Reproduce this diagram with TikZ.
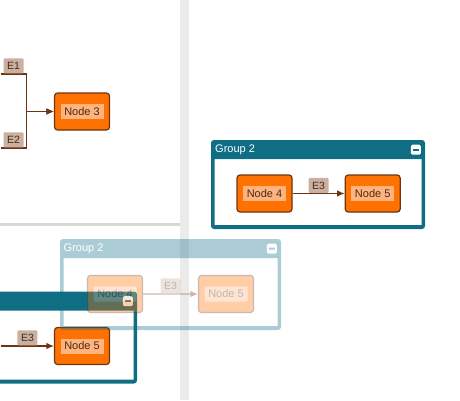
\documentclass[tikz,border=0pt]{standalone}
\usepackage{fontspec}
\setmainfont{Liberation Sans}
\usetikzlibrary{positioning, calc, arrows.meta}

\definecolor{nodefill}{HTML}{FF7100}
\definecolor{nodeline}{HTML}{6E3510}
\definecolor{namefill}{HTML}{FFB37E}
\definecolor{edgeline}{HTML}{6B3512}
\definecolor{tagfill}{HTML}{C9B0A1}
\definecolor{inktext}{HTML}{4B2A12}
\definecolor{groupline}{HTML}{0F6E84}
\definecolor{splitter}{HTML}{EBEBEB}
\definecolor{divider}{HTML}{D8D8D8}

\tikzstyle{Box} = [draw=nodeline, fill=nodefill, line width=1.2pt,
  rounded corners=3pt, minimum width=55pt, minimum height=37pt,
  inner sep=0pt, text=inktext, font=\fontsize{11}{13}\selectfont]
\tikzstyle{Tag} = [fill=tagfill, rounded corners=1pt, minimum width=20pt,
  minimum height=15pt, inner sep=0pt, text=inktext,
  font=\fontsize{10.5}{12}\selectfont]
\tikzstyle{Edge} = [draw=edgeline, line width=1.2pt,
  -{Latex[length=7.5pt, width=6.5pt]}]
\tikzstyle{Area} = [inner sep=0pt, outer sep=0pt]
\tikzstyle{Title} = [anchor=west, inner sep=0pt, text=white,
  font=\fontsize{11}{13}\selectfont]
\tikzstyle{Minus} = [fill=white, rounded corners=1.5pt, minimum size=10pt,
  inner sep=0pt, anchor=north east,
  path picture={\draw[groupline, line width=2pt]
    ($(path picture bounding box.west)+(2,0)$) --
    ($(path picture bounding box.east)+(-2,0)$);}]

\newcommand{\nodename}[1]{{\setlength{\fboxsep}{0pt}%
  \colorbox{namefill}{\makebox[43pt]{\rule[-4pt]{0pt}{15pt}#1}}}}
% frame, header bar and minus button of a group
\newcommand{\groupframe}[1]{%
  \fill[groupline, even odd rule, rounded corners=3pt]
    (#1.north west) rectangle (#1.south east)
    [sharp corners] ($(#1.north west)+(3.5,19)$) rectangle ($(#1.south east)+(-3.5,-4)$);
  \node[Minus] (#1minus) at ($(#1.north east)+(-4,4.5)$) {};}

\begin{document}
\begin{tikzpicture}[x=1pt, y=-1pt]
  \useasboundingbox (0,0) rectangle (460,400);
  \clip (0,0) rectangle (460,400);

  % panes
  \fill[splitter] (179.5,0) rectangle (188.5,400);
  \fill[divider] (0,222.5) rectangle (179.5,225.5);

  % top left pane
  \node[Box] (n3) at (82,111.5) {\nodename{Node 3}};
  \coordinate (e1in) at (0.5,74);
  \coordinate (e2in) at (0.5,148);
  \coordinate (join) at (26.5,111.5);
  \draw[Edge] (e1in) -- node[Tag, anchor=south] (e1) {E1} (e1in -| join) -- (join) -- (n3);
  \draw[Edge] (e2in) -- node[Tag, anchor=south] (e2) {E2} (e2in -| join) -- (join) -- (n3);

  % group 2, right pane
  \node[Area, minimum width=214pt, minimum height=89pt, anchor=north west] (grp2) at (211,140) {};
  \groupframe{grp2}
  \node[Title] (grp2title) at ($(grp2.north west)+(4,10)$) {Group 2};
  \node[Box] (n4) at (264.5,193.5) {\nodename{Node 4}};
  \node[Box, right=52pt of n4] (n5) {\nodename{Node 5}};
  \draw[Edge] (n4) -- node[Tag, anchor=south] (e3) {E3} (n5);

  % group 2, bottom left pane
  \node[Area, minimum width=217pt, minimum height=92pt, anchor=north east] (grp1) at (137,291.5) {};
  \groupframe{grp1}
  \coordinate (m4out) at (1,346);
  \node[Box] (m5) at (82,346) {\nodename{Node 5}};
  \draw[Edge] (m4out) -- node[Tag, anchor=south] (m3) {E3} (m5);

  % dragged copy
  \begin{scope}[opacity=0.35, transparency group]
    \node[Area, minimum width=221pt, minimum height=91pt, anchor=north west] (ghost) at (60,239) {};
    \groupframe{ghost}
    \node[Title] (ghosttitle) at ($(ghost.north west)+(3.5,10)$) {Group 2};
    \node[Box] (g4) at (115,294) {\nodename{Node 4}};
    \node[Box] (g5) at (226,294) {\nodename{Node 5}};
    \draw[Edge] (g4) -- node[Tag, anchor=south] (g3) {E3} (g5);
  \end{scope}
\end{tikzpicture}
\end{document}
